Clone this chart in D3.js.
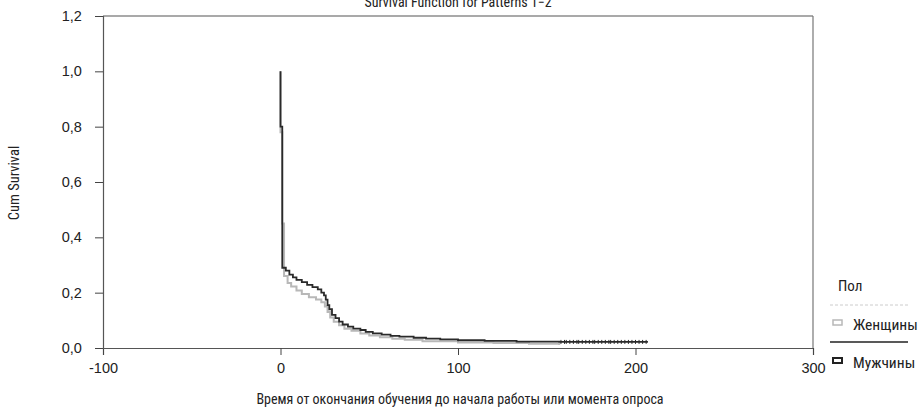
<!DOCTYPE html>
<html><head><meta charset="utf-8">
<script src="https://cdn.jsdelivr.net/npm/d3@7"></script>
<style>
body{margin:0;background:#fff;}
text{font-family:"Liberation Sans Narrow","Arial Narrow","Roboto Condensed","Liberation Sans",sans-serif;fill:#222;}
</style></head>
<body>
<svg id="c" width="923" height="409"></svg>
<script>
const title = "Survival Function for Patterns 1\u22122";
const xLabel = "Время от окончания обучения до начала работы или момента опроса";
const yLabel = "Cum Survival";
const xTicks = [-100, 0, 100, 200, 300];
const yTicks = [0, 0.2, 0.4, 0.6, 0.8, 1.0, 1.2];
const legendTitle = "Пол";
const seriesNames = ["Женщины", "Мужчины"];

const menTime = [0,0,1,3,5,7,9,12,15,18,21,23,24.5,25.5,26.5,27.5,29,31,33,35,38,41,45,48,52,57,62,67,75,82,90,100,115,133,157,207];
const menSurv = [1.0,0.80,0.29,0.28,0.265,0.255,0.246,0.238,0.228,0.22,0.212,0.2,0.19,0.175,0.155,0.14,0.12,0.108,0.095,0.085,0.077,0.07,0.065,0.058,0.053,0.048,0.044,0.041,0.037,0.034,0.031,0.028,0.026,0.023,0.022,0.022];
const womenTime = [0,0,1,2,4,6,9,12,16,20,23,25,26.5,28,30,33,36,40,45,50,56,63,70,80,100,120,140,157];
const womenSurv = [1.0,0.78,0.45,0.26,0.235,0.222,0.208,0.195,0.183,0.175,0.165,0.15,0.13,0.11,0.095,0.082,0.07,0.062,0.052,0.045,0.039,0.033,0.03,0.024,0.02,0.018,0.015,0.011];
const menCensored = [158,160,161,163,165,167,168,170,172,174,176,177,179,181,183,185,186,188,190,192,194,196,198,200,202,204,206];

const svg = d3.select("#c");
const L = 103, R = 813, T = 16, B = 348;
const x = d3.scaleLinear().domain([-100, 300]).range([L, R]);
const y = d3.scaleLinear().domain([0, 1.2]).range([B, T]);
const fmt = d => d3.format(".1f")(d).replace(".", ",");

// frame
svg.append("line").attr("x1", L).attr("x2", R).attr("y1", T).attr("y2", T).attr("stroke", "#555").attr("stroke-width", 1.2);
svg.append("line").attr("x1", R).attr("x2", R).attr("y1", T).attr("y2", B).attr("stroke", "#777").attr("stroke-width", 1.2);

// axes
const xAxis = d3.axisBottom(x).tickValues(xTicks).tickSize(7).tickFormat(d => d);
const gx = svg.append("g").attr("transform", `translate(0,${B})`).call(xAxis);
const yAxis = d3.axisLeft(y).tickValues(yTicks).tickSize(8).tickFormat(fmt);
const gy = svg.append("g").attr("transform", `translate(${L},0)`).call(yAxis);
[gx, gy].forEach(g => {
  g.select(".domain").attr("stroke", "#555").attr("stroke-width", 1.2);
  g.selectAll(".tick line").attr("stroke", "#444");
  g.selectAll("text").attr("font-size", 14.5).attr("fill", "#222")
    .style("font-family", '"Liberation Sans Narrow","Liberation Sans",sans-serif');
});
gx.selectAll("text").attr("dy", "1.05em");
gy.selectAll("text").attr("dx", "-0.7em");

// title
svg.append("text").attr("x", 458).attr("y", 7).attr("text-anchor", "middle")
  .attr("font-size", 14).text(title);
// axis labels
svg.append("text").attr("x", 460).attr("y", 404).attr("text-anchor", "middle")
  .attr("font-size", 14).text(xLabel);
svg.append("text").attr("transform", "translate(19,183) rotate(-90)").attr("text-anchor", "middle")
  .attr("font-size", 14.5).text(yLabel);

// curves
const line = d3.line().x(d => x(d[0])).y(d => y(d[1])).curve(d3.curveStepAfter);
const women = womenTime.map((t, i) => [t, womenSurv[i]]);
const men = menTime.map((t, i) => [t, menSurv[i]]);
svg.append("path").datum(women).attr("d", line).attr("fill", "none").attr("stroke", "#b8b8b8").attr("stroke-width", 2);
svg.append("path").datum(men).attr("d", line).attr("fill", "none").attr("stroke", "#2a2a2a").attr("stroke-width", 1.8);
svg.append("g").selectAll("line").data(menCensored).join("line")
  .attr("x1", d => x(d)).attr("x2", d => x(d))
  .attr("y1", y(menSurv[menSurv.length - 1]) - 2).attr("y2", y(menSurv[menSurv.length - 1]) + 2)
  .attr("stroke", "#2a2a2a").attr("stroke-width", 1);

// legend
svg.append("text").attr("x", 838).attr("y", 291).attr("font-size", 15).text(legendTitle);
svg.append("line").attr("x1", 830).attr("x2", 908).attr("y1", 305).attr("y2", 305)
  .attr("stroke", "#ccc").attr("stroke-dasharray", "3,2");
svg.append("line").attr("x1", 830).attr("x2", 908).attr("y1", 342).attr("y2", 342)
  .attr("stroke", "#222").attr("stroke-width", 1.5);
const legColors = ["#b8b8b8", "#222"];
const legY = [324, 362];
seriesNames.forEach((n, i) => {
  svg.append("rect").attr("x", 833).attr("y", legY[i] - 4).attr("width", 9).attr("height", 5)
    .attr("fill", "#fff").attr("stroke", legColors[i]).attr("stroke-width", i ? 2 : 1.5);
  svg.append("text").attr("x", 853).attr("y", legY[i] + 6).attr("font-size", 15.5).text(n);
});
</script>
</body></html>
